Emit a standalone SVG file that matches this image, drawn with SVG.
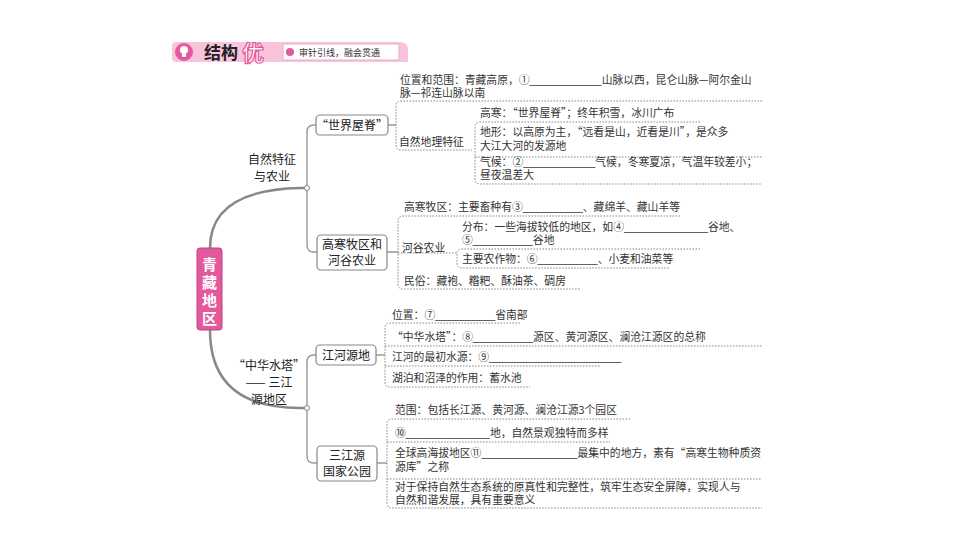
<svg xmlns="http://www.w3.org/2000/svg" width="960" height="540" viewBox="0 0 960 540">
<style>
.t{font-family:"Noto Sans CJK SC",sans-serif;font-size:10.8px;fill:#333}
.u{font-family:"Liberation Sans",sans-serif}
.n{font-family:"Noto Sans CJK SC",sans-serif;font-size:12px;fill:#222;text-anchor:middle}
.b{fill:#fff;stroke:#888;stroke-width:1.2}
.d{fill:none;stroke:#777;stroke-width:0.9;stroke-dasharray:1.5 1.5}
.c{fill:none;stroke:#999;stroke-width:1.4}
.m{fill:none;stroke:#888;stroke-width:2.5}
</style>
<rect width="960" height="540" fill="#fff"/>
<g id="header">
<path d="M176 42 H400 Q408 42 408 50 V62 H176 Q172 62 172 58 V46 Q172 42 176 42Z" fill="#f7c4dc"/>
<circle cx="184" cy="52" r="9" fill="#e4589e"/>
<circle cx="184" cy="50" r="4" fill="#fff"/>
<rect x="182" y="54" width="4" height="3" fill="#fff"/>
<text x="204" y="59" font-family="Noto Sans CJK SC,sans-serif" font-size="17" font-weight="bold" fill="#222">结构</text>
<text x="242" y="61" font-family="Noto Sans CJK SC,sans-serif" font-size="22" font-weight="bold" fill="#fff" stroke="#e4589e" stroke-width="1.2">优</text>
<rect x="283" y="44" width="116" height="16" fill="#fff" stroke="#f0a9c9"/>
<circle cx="290" cy="52" r="4" fill="#e4589e"/>
<text x="299" y="56" font-family="Noto Sans CJK SC,sans-serif" font-size="9" fill="#333">审针引线，融会贯通</text>
</g>
<g id="connectors">
<path class="m" d="M210 248 Q210 190 300 188 H307"/>
<path class="m" d="M210 330 Q210 408 300 408 H307"/>
<path class="c" d="M316 125 H314 Q307 125 307 132 V245 Q307 252 314 252 H317"/>
<path class="c" d="M316 355 H314 Q307 355 307 362 V456 Q307 463 314 463 H317"/>
<circle cx="307" cy="188" r="2.5" fill="#fff" stroke="#888"/>
<circle cx="307" cy="408" r="2.5" fill="#fff" stroke="#888"/>
<path class="c" d="M388 125 H396 M387 252 H398 M376 355 H385 M377 463 H387"/>
</g>
<g id="root">
<rect x="197" y="248" width="25" height="82" rx="3" fill="#e4589e" stroke="#c4407e"/>
<text font-family="Noto Sans CJK SC,sans-serif" font-size="15" font-weight="bold" fill="#fff" text-anchor="middle"><tspan x="209.5" y="270">青</tspan><tspan x="209.5" y="288">藏</tspan><tspan x="209.5" y="306">地</tspan><tspan x="209.5" y="324">区</tspan></text>
</g>
<g id="branch1"><text class="n" font-size="13"><tspan x="272" y="164">自然特征</tspan><tspan x="272" y="181">与农业</tspan></text></g>
<g id="branch2"><text class="n" font-size="13"><tspan x="269" y="370">“中华水塔”</tspan><tspan x="269" y="387">—— 三江</tspan><tspan x="269" y="404">源地区</tspan></text></g>
<g id="n1"><rect class="b" x="316" y="115" width="72" height="20" rx="4"/><text class="n" x="352" y="130">“世界屋脊”</text></g>
<g id="n2"><rect class="b" x="317" y="235" width="70" height="35" rx="4"/><text class="n"><tspan x="352" y="249">高寒牧区和</tspan><tspan x="352" y="265">河谷农业</tspan></text></g>
<g id="n3"><rect class="b" x="316" y="345" width="60" height="20" rx="4"/><text class="n" x="346" y="360">江河源地</text></g>
<g id="n4"><rect class="b" x="317" y="446" width="60" height="35" rx="4"/><text class="n"><tspan x="347" y="460">三江源</tspan><tspan x="347" y="476">国家公园</tspan></text></g>
<g id="leaves1">
<text class="t" x="400" y="84">位置和范围：青藏高原，①<tspan class="u">____________</tspan>山脉以西，昆仑山脉—阿尔金山</text>
<text class="t" x="400" y="97">脉—祁连山脉以南</text>
<path class="d" d="M762 101 H401 Q396 101 396 106 V145 Q396 150 401 150 H472"/>
<text class="t" x="399" y="146">自然地理特征</text>
<text class="t" x="480" y="117">高寒：“世界屋脊”；终年积雪，冰川广布</text>
<path class="d" d="M700 122 H480 Q475 122 475 127 V179 Q475 184 480 184 H762 M475 157 H762"/>
<text class="t" x="480" y="136">地形：以高原为主，“远看是山，近看是川”，是众多</text>
<text class="t" x="480" y="150">大江大河的发源地</text>
<text class="t" x="480" y="166">气候：②<tspan class="u">____________</tspan>气候，冬寒夏凉，气温年较差小；</text>
<text class="t" x="480" y="179">昼夜温差大</text>
</g>
<g id="leaves2">
<text class="t" x="404" y="211">高寒牧区：主要畜种有③<tspan class="u">__________</tspan>、藏绵羊、藏山羊等</text>
<path class="d" d="M680 216 H403 Q398 216 398 221 V284 Q398 289 403 289 H580 M398 253 H457"/>
<text class="t" x="402" y="252">河谷农业</text>
<text class="t" x="462" y="231">分布：一些海拔较低的地区，如④<tspan class="u">______________</tspan>谷地、</text>
<text class="t" x="462" y="244">⑤<tspan class="u">__________</tspan>谷地</text>
<path class="d" d="M700 249 H462 Q457 249 457 254 V263 Q457 268 462 268 H670"/>
<text class="t" x="462" y="263">主要农作物：⑥<tspan class="u">__________</tspan>、小麦和油菜等</text>
<text class="t" x="404" y="285">民俗：藏袍、糌粑、酥油茶、碉房</text>
</g>
<g id="leaves3">
<text class="t" x="392" y="319">位置：⑦<tspan class="u">__________</tspan>省南部</text>
<path class="d" d="M520 323 H390 Q385 323 385 328 V382 Q385 387 390 387 H530 M385 346 H762 M385 366 H600"/>
<text class="t" x="392" y="341">“中华水塔”：⑧<tspan class="u">__________</tspan>源区、黄河源区、澜沧江源区的总称</text>
<text class="t" x="392" y="361">江河的最初水源：⑨<tspan class="u">______________________</tspan></text>
<text class="t" x="392" y="382">湖泊和沼泽的作用：蓄水池</text>
</g>
<g id="leaves4">
<text class="t" x="395" y="414">范围：包括长江源、黄河源、澜沧江源3个园区</text>
<path class="d" d="M630 419 H392 Q387 419 387 424 V503 Q387 508 392 508 H762 M387 442 H610 M387 479 H762"/>
<text class="t" x="395" y="437">⑩<tspan class="u">______________</tspan>地，自然景观独特而多样</text>
<text class="t" x="395" y="457">全球高海拔地区⑪<tspan class="u">________________</tspan>最集中的地方，素有“高寒生物种质资</text>
<text class="t" x="395" y="471">源库”之称</text>
<text class="t" x="395" y="491">对于保持自然生态系统的原真性和完整性，筑牢生态安全屏障，实现人与</text>
<text class="t" x="395" y="504">自然和谐发展，具有重要意义</text>
</g>
</svg>
